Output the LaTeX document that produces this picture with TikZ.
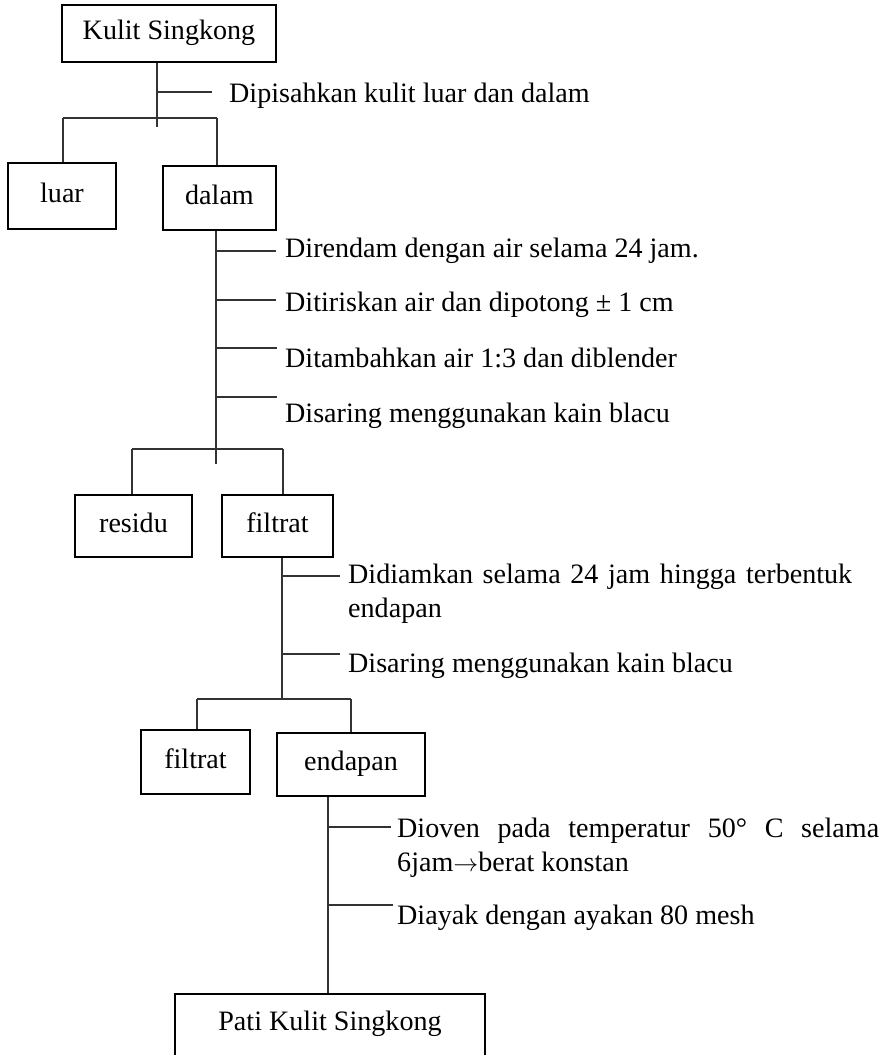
\documentclass[tikz,border=0pt]{standalone}
\usepackage{fontspec}
\setmainfont{Liberation Serif}
\usetikzlibrary{calc}
\begin{document}
\begin{tikzpicture}[x=1pt,y=-1pt,
  every node/.style={font=\fontsize{28.1}{34}\selectfont, inner sep=0pt},
  thinbox/.style={draw=black, line width=1.6pt, text height=19.7pt, text depth=7.5pt},
  boldbox/.style={draw=black, line width=2.6pt, text height=19.7pt, text depth=7.5pt},
  conn/.style={draw=black!80, line width=1.3pt},
  lbl/.style={anchor=base west}]
\useasboundingbox (0,0) rectangle (883,1055);
\clip (0,0) rectangle (883,1055);

% ---- boxes ----
\node[thinbox, minimum width=214pt, minimum height=57pt] (ks) at (169,33.5) {Kulit Singkong};
\node[boldbox, minimum width=108pt, minimum height=66pt] (luar) at (62,196) {luar};
\node[boldbox, minimum width=113pt, minimum height=64pt] (dalam) at (219.5,198) {dalam};
\node[boldbox, minimum width=117pt, minimum height=62pt] (residu) at (133.5,526) {residu};
\node[boldbox, minimum width=111pt, minimum height=62pt] (filtrat) at (277.5,526) {filtrat};
\node[boldbox, minimum width=109pt, minimum height=64pt] (filtratb) at (195.5,762) {filtrat};
\node[boldbox, minimum width=148pt, minimum height=63pt] (endapan) at (351,764.5) {endapan};
\node[thinbox, minimum width=310pt, minimum height=80pt, anchor=north] (pati) at (330,993) {};
\node[anchor=base] (patitxt) at (330,1030) {Pati Kulit Singkong};

% ---- step labels ----
\node[lbl] (l0) at (229,102) {Dipisahkan kulit luar dan dalam};
\node[lbl] (l1) at (285,257) {Direndam dengan air selama 24 jam.};
\node[lbl] (l2) at (285,311) {Ditiriskan air dan dipotong ± 1 cm};
\node[lbl] (l3) at (285,367) {Ditambahkan air 1:3 dan diblender};
\node[lbl] (l4) at (285,422) {Disaring menggunakan kain blacu};
\node[lbl] (l5) at (348,583) {\makebox[504pt][s]{Didiamkan selama 24 jam hingga terbentuk}};
\node[lbl] (l5b) at (348,617) {endapan};
\node[lbl] (l6) at (348,672) {Disaring menggunakan kain blacu};
\node[lbl] (l7) at (397,837) {\makebox[482pt][s]{Dioven pada temperatur 50° C selama}};
\node[lbl] (l7b) at (397,871) {6jam$\rightarrow$berat konstan};
\node[lbl] (l8) at (397,924) {Diayak dengan ayakan 80 mesh};

% ---- stage 1: split of the peel ----
\coordinate (s1) at (157,127);
\coordinate (b1l) at (63,118);
\coordinate (b1r) at (217,118);
\coordinate (t0) at (212,92);
\draw[conn] (ks.south -| s1) -- (s1);
\draw[conn] (t0 -| s1) -- (t0);
\draw[conn] (b1l) -- (b1r);
\draw[conn] (b1l) -- (b1l |- luar.north);
\draw[conn] (b1r) -- (b1r |- dalam.north);

% ---- stage 2: soaking, cutting, blending, filtering ----
\coordinate (s2) at (216,464);
\coordinate (b2l) at (132,449);
\coordinate (b2r) at (283,449);
\coordinate (t1) at (276,251);
\coordinate (t2) at (276,300);
\coordinate (t3) at (277,348);
\coordinate (t4) at (277,397);
\draw[conn] (dalam.south -| s2) -- (s2);
\foreach \t in {t1,t2,t3,t4} \draw[conn] (\t -| s2) -- (\t);
\draw[conn] (b2l) -- (b2r);
\draw[conn] (b2l) -- (b2l |- residu.north);
\draw[conn] (b2r) -- (b2r |- filtrat.north);

% ---- stage 3: settling and filtering ----
\coordinate (s3) at (282,699);
\coordinate (b3l) at (197,699);
\coordinate (b3r) at (351,699);
\coordinate (t5) at (340,576);
\coordinate (t6) at (340,654);
\draw[conn] (filtrat.south -| s3) -- (s3);
\draw[conn] (t5 -| s3) -- (t5);
\draw[conn] (t6 -| s3) -- (t6);
\draw[conn] (b3l) -- (b3r);
\draw[conn] (b3l) -- (b3l |- filtratb.north);
\draw[conn] (b3r) -- (b3r |- endapan.north);

% ---- stage 4: drying and sieving ----
\coordinate (s4) at (328,900);
\coordinate (t7) at (391,827);
\coordinate (t8) at (393,905);
\draw[conn] (endapan.south -| s4) -- (pati.north -| s4);
\draw[conn] (t7 -| s4) -- (t7);
\draw[conn] (t8 -| s4) -- (t8);
\end{tikzpicture}
\end{document}
